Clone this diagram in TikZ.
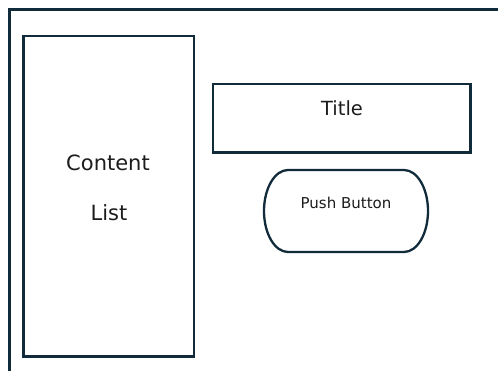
\documentclass[tikz,border=0pt]{standalone}
\usepackage{fontspec}
\setmainfont{DejaVu Sans}
\usetikzlibrary{calc}
\definecolor{edge}{HTML}{112B3B}
\definecolor{ink}{HTML}{1C1C1C}
\tikzset{
  stroke/.style={draw=edge, line width=2.3pt},
  box/.style={stroke, rectangle, inner sep=0pt},
  caption/.style={text=ink, inner sep=0pt}
}
\begin{document}
\begin{tikzpicture}[x=1pt,y=1pt]
  \useasboundingbox (0,0) rectangle (498,371);
  % open outer frame (only top and left edges visible)
  \coordinate (fr) at (499,361.5);
  \coordinate (fc) at (9.5,361.5);
  \coordinate (fb) at (9.5,-1);
  \draw[stroke] (fr) -- (fc) -- (fb);
  % content list panel
  \node[box, minimum width=170.5pt, minimum height=320.7pt] (list) at (108.75,174.7) {};
  \node[caption, font=\fontsize{21}{25}\selectfont] (lt1) at (108,208.5) {Content};
  \node[caption, font=\fontsize{21}{25}\selectfont] (lt2) at (109,158) {List};
  % title bar
  \node[box, minimum width=257.8pt, minimum height=68.5pt] (title) at (341.6,252.75) {};
  \node[caption, font=\fontsize{19.5}{23}\selectfont] (tt) at (342,263) {Title};
  % push button: straight top and bottom with half-ellipse ends
  \coordinate (push) at (346,160);
  \draw[stroke] ($(push)+(-58,41)$) -- ($(push)+(58,41)$)
    arc[start angle=90, end angle=-90, x radius=24, y radius=41]
    -- ($(push)+(-58,-41)$)
    arc[start angle=270, end angle=90, x radius=24, y radius=41] -- cycle;
  \node[caption, font=\fontsize{15}{18}\selectfont] (pt) at (346,168) {Push Button};
\end{tikzpicture}
\end{document}
